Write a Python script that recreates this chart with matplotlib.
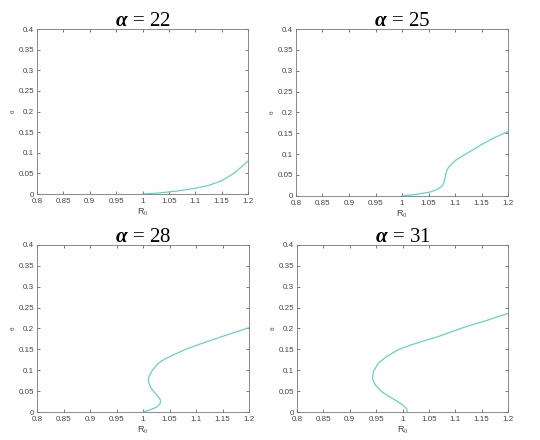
import matplotlib
matplotlib.use('Agg')
import matplotlib.pyplot as plt

plt.rcParams['mathtext.fontset'] = 'custom'
plt.rcParams['mathtext.rm'] = 'Liberation Serif'
plt.rcParams['mathtext.it'] = 'Liberation Serif:italic'
plt.rcParams['mathtext.bf'] = 'Liberation Serif:italic:bold'
plt.rcParams['font.family'] = 'Liberation Sans'

# values, one curve per alpha
alphas = [22, 25, 28, 31]

r0_22 = [1.0, 1.025, 1.05, 1.075, 1.1, 1.125, 1.15, 1.175, 1.2]
th_22 = [0.0, 0.002, 0.005, 0.009, 0.014, 0.021, 0.032, 0.052, 0.08]

r0_25 = [1.0, 1.025, 1.053, 1.065, 1.075, 1.079, 1.081, 1.083, 1.087, 1.094,
         1.103, 1.116, 1.132, 1.15, 1.175, 1.2]
th_25 = [0.0, 0.003, 0.009, 0.0145, 0.0225, 0.031, 0.043, 0.055, 0.067, 0.077,
         0.087, 0.097, 0.109, 0.123, 0.14, 0.154]

r0_28 = [1.0, 1.013, 1.026, 1.032, 1.033, 1.029, 1.021, 1.014, 1.010, 1.011,
         1.018, 1.029, 1.04, 1.051, 1.082, 1.113, 1.145, 1.176, 1.2]
th_28 = [0.0, 0.005, 0.012, 0.020, 0.028, 0.036, 0.047, 0.059, 0.073, 0.085,
         0.101, 0.117, 0.126, 0.133, 0.151, 0.165, 0.179, 0.192, 0.202]

r0_31 = [1.009, 1.008, 1.003, 0.992, 0.976, 0.961, 0.948, 0.943, 0.945, 0.954,
         0.970, 0.992, 1.017, 1.043, 1.071, 1.115, 1.159, 1.2]
th_31 = [0.0, 0.007, 0.014, 0.024, 0.036, 0.048, 0.065, 0.081, 0.097, 0.117,
         0.133, 0.149, 0.161, 0.171, 0.182, 0.202, 0.219, 0.236]

curves = [(r0_22, th_22), (r0_25, th_25), (r0_28, th_28), (r0_31, th_31)]

xticks = [0.8, 0.85, 0.9, 0.95, 1, 1.05, 1.1, 1.15, 1.2]
yticks = [0, 0.05, 0.1, 0.15, 0.2, 0.25, 0.3, 0.35, 0.4]

# axes boxes in figure fractions
boxes = [
    [0.0685, 0.559, 0.391, 0.375],
    [0.548, 0.555, 0.393, 0.379],
    [0.0685, 0.0636, 0.393, 0.38],
    [0.55, 0.0636, 0.391, 0.38],
]

fig = plt.figure(figsize=(5.4, 4.4), dpi=100)

for a, (xs, ys), box in zip(alphas, curves, boxes):
    ax = fig.add_axes(box)
    ax.plot(xs, ys, color='#66d2c4', linewidth=0.9)
    ax.set_xlim(0.8, 1.2)
    ax.set_ylim(0, 0.4)
    ax.set_xticks(xticks)
    ax.set_yticks(yticks)
    ax.set_xticklabels([f'{t:g}' for t in xticks])
    ax.set_yticklabels([f'{t:g}' for t in yticks])
    ax.tick_params(direction='in', length=2, width=0.5, labelsize=5.8,
                   colors='#444444', top=True, right=True)
    ax.tick_params(axis='x', pad=3)
    ax.tick_params(axis='y', pad=2)
    for s in ax.spines.values():
        s.set_color('#777777')
        s.set_linewidth(0.6)
    ax.set_xlabel('R$_0$', fontsize=6.5, color='#444444', labelpad=1)
    ax.set_ylabel('θ', fontsize=4.5, color='#444444', labelpad=2)
    ax.set_title(r'$\mathbf{\alpha}\,=\,\mathrm{' + str(a) + '}$', fontsize=15, pad=2)

fig.savefig('out.png', dpi=100)
